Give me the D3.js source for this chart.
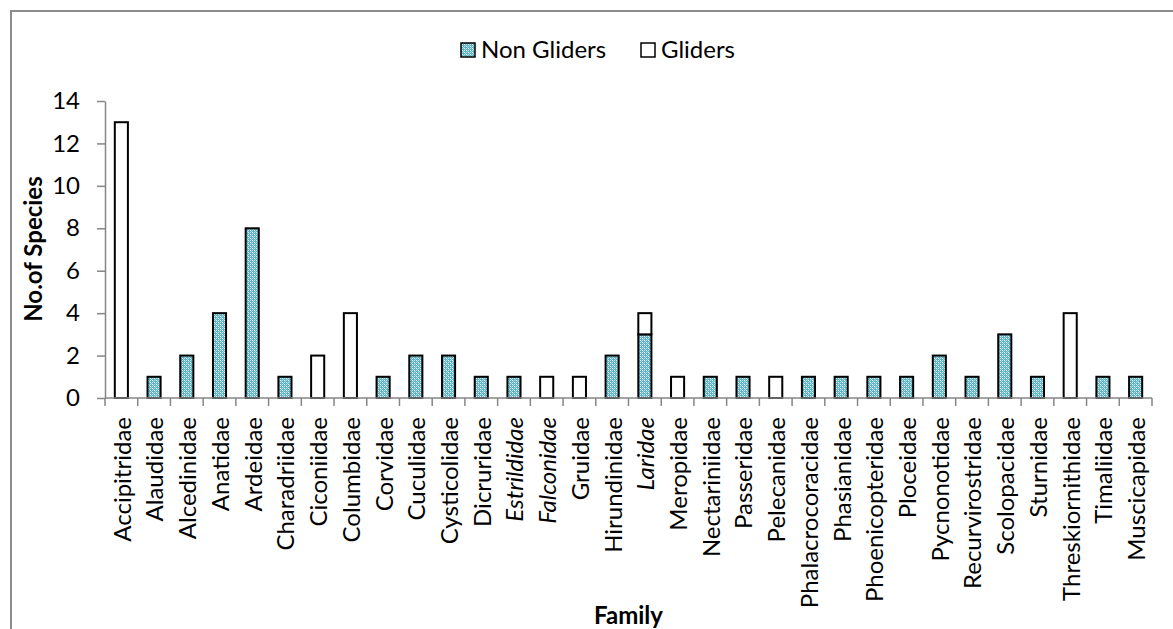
<!DOCTYPE html>
<html><head><meta charset="utf-8">
<script src="https://cdn.jsdelivr.net/npm/d3@7"></script>
<style>
html,body{margin:0;padding:0;background:#fff;}
svg{display:block;font-family:Lato,"Open Sans",sans-serif;}
</style></head>
<body>
<svg id="chart" width="1173" height="629"></svg>
<script>
const families = ["Accipitridae","Alaudidae","Alcedinidae","Anatidae","Ardeidae","Charadriidae","Ciconiidae","Columbidae","Corvidae","Cuculidae","Cysticolidae","Dicruridae","Estrildidae","Falconidae","Gruidae","Hirundinidae","Laridae","Meropidae","Nectariniidae","Passeridae","Pelecanidae","Phalacrocoracidae","Phasianidae","Phoenicopteridae","Ploceidae","Pycnonotidae","Recurvirostridae","Scolopacidae","Sturnidae","Threskiornithidae","Timaliidae","Muscicapidae"];
const nonGliders = [0,1,2,4,8,1,0,0,1,2,2,1,1,0,0,2,3,0,1,1,0,1,1,1,1,2,1,3,1,0,1,1];
const gliders    = [13,0,0,0,0,0,2,4,0,0,0,0,0,1,1,0,1,1,0,0,1,0,0,0,0,0,0,0,0,4,0,0];
const italicFamilies = ["Estrildidae","Falconidae","Laridae"];
const yTicks = [0,2,4,6,8,10,12,14];
const seriesNames = ["Non Gliders","Gliders"];

const svg = d3.select("#chart");
const defs = svg.append("defs");
const pat = defs.append("pattern").attr("id","dots").attr("patternUnits","userSpaceOnUse")
  .attr("width",4).attr("height",4);
pat.append("rect").attr("width",4).attr("height",4).attr("fill","#5bb3c8");
pat.append("rect").attr("x",0).attr("y",0).attr("width",1).attr("height",1).attr("fill","#ffffff");
pat.append("rect").attr("x",2).attr("y",2).attr("width",1).attr("height",1).attr("fill","#ffffff");
pat.append("rect").attr("x",2).attr("y",0).attr("width",1).attr("height",1).attr("fill","#bfe6ee");
pat.append("rect").attr("x",0).attr("y",2).attr("width",1).attr("height",1).attr("fill","#bfe6ee");
pat.append("rect").attr("x",1).attr("y",1).attr("width",1).attr("height",1).attr("fill","#9fd8e4");
pat.append("rect").attr("x",3).attr("y",3).attr("width",1).attr("height",1).attr("fill","#9fd8e4");

// outer frame
svg.append("path").attr("d","M11,640 L11,11 L1180,11").attr("fill","none")
  .attr("stroke","#8c8c8c").attr("stroke-width",2);

const m = {left:105, right:1152, top:101, bottom:398};
const x = d3.scaleBand().domain(families).range([m.left,m.right]).paddingInner(0).paddingOuter(0);
const y = d3.scaleLinear().domain([0,14]).range([m.bottom,m.top]);
const bw = x.bandwidth()*0.4;

const data = families.map((f,i)=>({f, ng:nonGliders[i], g:gliders[i]}));

// bars
const gb = svg.append("g");
data.forEach(d=>{
  const cx = x(d.f)+x.bandwidth()/2;
  if(d.ng>0){
    gb.append("rect").attr("x",cx-bw/2).attr("width",bw)
      .attr("y",y(d.ng)).attr("height",y(0)-y(d.ng))
      .attr("fill","url(#dots)").attr("stroke","#000").attr("stroke-width",2);
  }
  if(d.g>0){
    gb.append("rect").attr("x",cx-bw/2).attr("width",bw)
      .attr("y",y(d.ng+d.g)).attr("height",y(d.ng)-y(d.ng+d.g))
      .attr("fill","#fff").attr("stroke","#000").attr("stroke-width",2);
  }
});

// y axis
const yAxis = svg.append("g").attr("transform",`translate(${m.left},0)`)
  .call(d3.axisLeft(y).tickValues(yTicks).tickSize(8).tickPadding(17).tickSizeOuter(0));
yAxis.select(".domain").attr("stroke","#868686").attr("stroke-width",1.5);
yAxis.selectAll(".tick line").attr("stroke","#868686").attr("stroke-width",1.5);
yAxis.selectAll(".tick text").attr("font-size",24).attr("fill","#000").attr("font-family","Lato,sans-serif");

// x axis
const xg = svg.append("g");
xg.append("line").attr("x1",m.left).attr("x2",m.right).attr("y1",y(0)).attr("y2",y(0))
  .attr("stroke","#868686").attr("stroke-width",1.5);
const bounds = families.map(f=>x(f)).concat([m.right]);
xg.selectAll("line.tk").data(bounds).enter().append("line").attr("class","tk")
  .attr("x1",d=>d).attr("x2",d=>d).attr("y1",y(0)).attr("y2",y(0)+8)
  .attr("stroke","#868686").attr("stroke-width",1.5);
xg.selectAll("text").data(families).enter().append("text")
  .attr("transform",d=>`translate(${x(d)+x.bandwidth()/2+1},${y(0)+19}) rotate(-90)`)
  .attr("text-anchor","end").attr("dy","0.35em")
  .attr("font-size",24).attr("fill","#000")
  .attr("font-style",d=>italicFamilies.includes(d)?"italic":"normal")
  .text(d=>d);

// axis titles
svg.append("text").attr("x",(m.left+m.right)/2).attr("y",624).attr("text-anchor","middle")
  .attr("font-size",24).attr("font-weight","bold").text("Family");
svg.append("text").attr("transform",`translate(42,249) rotate(-90)`).attr("text-anchor","middle")
  .attr("font-size",24).attr("font-weight","bold").text("No.of Species");

// legend
const lg = svg.append("g");
const legendItems = [{name:seriesNames[0],x:460,fill:"url(#dots)"},{name:seriesNames[1],x:640,fill:"#fff"}];
legendItems.forEach(it=>{
  lg.append("rect").attr("x",it.x+1).attr("y",43).attr("width",14).attr("height",14)
    .attr("fill",it.fill).attr("stroke","#000").attr("stroke-width",1.5);
  lg.append("text").attr("x",it.x+21).attr("y",58).attr("font-size",24).attr("fill","#000").text(it.name);
});
</script>
</body></html>
